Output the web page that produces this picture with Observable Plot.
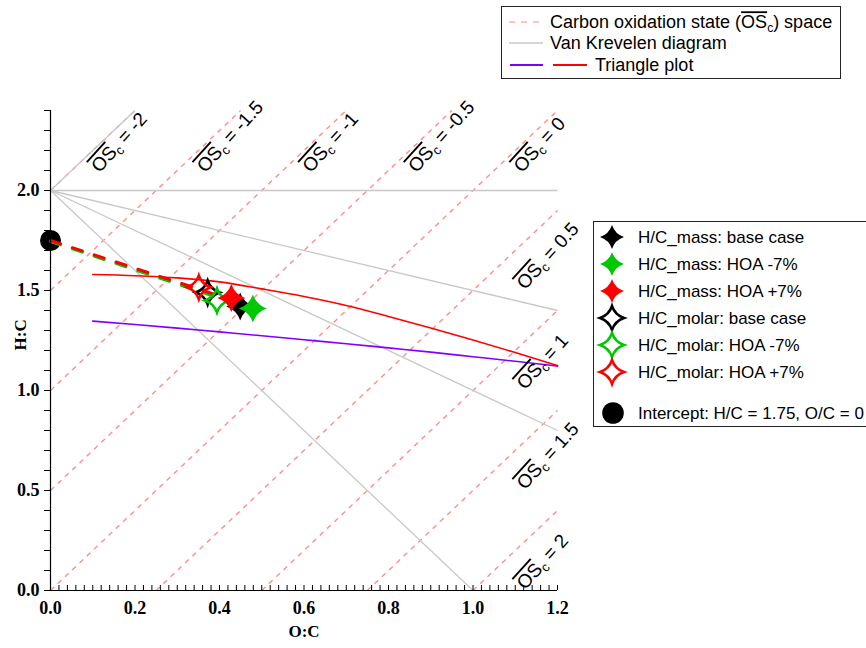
<!DOCTYPE html>
<html><head><meta charset="utf-8">
<script src="https://cdn.jsdelivr.net/npm/d3@7"></script>
<script src="https://cdn.jsdelivr.net/npm/@observablehq/plot@0.6"></script>
<style>body{margin:0;background:#fff}#chart{position:relative;width:866px;height:648px}</style>
</head><body><div id="chart"></div>
<script>
// ---- data ----
const osValues  = [-2, -1.5, -1, -0.5, 0, 0.5, 1, 1.5, 2];
const osStartOC = [0, 0, 0, 0, 0, 0.25, 0.5, 0.75, 1.0];
const osStartHC = [2, 1.5, 1, 0.5, 0, 0, 0, 0, 0];
const osEndOC   = [0.2, 0.45, 0.7, 0.95, 1.2, 1.2, 1.2, 1.2, 1.2];
const osEndHC   = [2.4, 2.4, 2.4, 2.4, 2.4, 1.9, 1.4, 0.9, 0.4];

const vkStartOC = [0, 0, 0, 0, 0];
const vkStartHC = [2, 2, 2, 2, 2];
const vkEndOC   = [0.2, 1.2, 1.2, 1.2, 1.0];
const vkEndHC   = [2.4, 2.0, 1.4, 0.8, 0.0];

const triOC       = [0.10, 0.20, 0.30, 0.40, 0.50, 0.60, 0.70, 0.80, 0.90, 1.00, 1.10, 1.20];
const triRedHC    = [1.580, 1.574, 1.563, 1.543, 1.508, 1.470, 1.425, 1.370, 1.312, 1.252, 1.190, 1.125];
const triPurpleHC = [1.347, 1.330, 1.312, 1.293, 1.274, 1.254, 1.234, 1.213, 1.192, 1.169, 1.146, 1.122];

const fitGreenOC = [0, 0.48], fitGreenHC = [1.75, 1.410];
const fitRedOC   = [0, 0.43], fitRedHC   = [1.75, 1.452];

const caseNames = ["base case", "HOA -7%", "HOA +7%"];
const massOC  = [0.449, 0.479, 0.428];
const massHC  = [1.420, 1.410, 1.462];
const molarOC = [0.372, 0.394, 0.351];
const molarHC = [1.490, 1.450, 1.516];

const interceptOC = [0], interceptHC = [1.75];

const xTicks = [0, 0.2, 0.4, 0.6, 0.8, 1.0, 1.2];
const yTicks = [0, 0.5, 1.0, 1.5, 2.0];

// ---- styles ----
const caseColors = ["#000000", "#00c800", "#ff0000"];
const osColor = "#ff8f8f", vkColor = "#c8c8c8", redColor = "#ff0000", purpleColor = "#8000ff";

const star4 = {
  draw(ctx, size) {
    const R = Math.sqrt(size / Math.PI), c = R * 0.25;
    ctx.moveTo(0, -R);
    ctx.quadraticCurveTo(c, -c, R, 0);
    ctx.quadraticCurveTo(c, c, 0, R);
    ctx.quadraticCurveTo(-c, c, -R, 0);
    ctx.quadraticCurveTo(-c, -c, 0, -R);
    ctx.closePath();
  }
};

const idx = a => a.map((_, i) => i);
const sans = "Liberation Sans, Arial, sans-serif";
const serif = "Liberation Serif, Times New Roman, serif";

const osTop = idx(osValues).filter(i => osValues[i] <= 0);
const osRight = idx(osValues).filter(i => osValues[i] > 0);

const marks = [
  Plot.link(idx(osValues), {x1: i => osStartOC[i], y1: i => osStartHC[i], x2: i => osEndOC[i], y2: i => osEndHC[i],
    stroke: osColor, strokeWidth: 1.4, strokeDasharray: "5,5"}),
  Plot.link(idx(vkEndOC), {x1: i => vkStartOC[i], y1: i => vkStartHC[i], x2: i => vkEndOC[i], y2: i => vkEndHC[i],
    stroke: vkColor, strokeWidth: 1.3}),
  Plot.line(idx(triOC), {x: i => triOC[i], y: i => triPurpleHC[i], stroke: purpleColor, strokeWidth: 1.6, curve: "monotone-x"}),
  Plot.line(idx(triOC), {x: i => triOC[i], y: i => triRedHC[i], stroke: redColor, strokeWidth: 1.6, curve: "monotone-x"}),
  Plot.dot(idx(interceptOC), {x: i => interceptOC[i], y: i => interceptHC[i], r: 10.5, fill: "black"}),
  Plot.line(idx(fitGreenOC), {x: i => fitGreenOC[i], y: i => fitGreenHC[i], stroke: "#00c800", strokeWidth: 3, strokeDasharray: "10.5,12.5", dy: 1}),
  Plot.line(idx(fitRedOC), {x: i => fitRedOC[i], y: i => fitRedHC[i], stroke: redColor, strokeWidth: 3, strokeDasharray: "10.5,12.5"}),
];
caseNames.forEach((_, i) => marks.push(Plot.dot([i], {x: j => molarOC[j], y: j => molarHC[j], symbol: star4, r: 12, fill: "none", stroke: caseColors[i], strokeWidth: 2.5})));
caseNames.forEach((_, i) => marks.push(Plot.dot([i], {x: j => massOC[j], y: j => massHC[j], symbol: star4, r: 14, fill: caseColors[i], stroke: "none"})));

marks.push(
  Plot.text(osTop, {x: i => osEndOC[i], y: i => osEndHC[i], text: i => `OSc = ${osValues[i]}`, rotate: -48, textAnchor: "start",
    dx: -40, dy: 59, fontFamily: sans, fontSize: 19, fill: "black", className: "oslab"}),
  Plot.text(osRight, {x: i => osEndOC[i], y: i => osEndHC[i], text: i => `OSc = ${osValues[i]}`, rotate: -48, textAnchor: "start",
    dx: -37, dy: 76, fontFamily: sans, fontSize: 19, fill: "black", className: "oslab"}),
  Plot.axisY(d3.range(0, 25).map(i => i / 10), {tickSize: 6, tickFormat: () => "", label: null}),
  Plot.axisY(yTicks, {tickSize: 0, tickPadding: 11, tickFormat: d => d.toFixed(1), label: null, fontFamily: serif, fontWeight: "bold", fontSize: 18}),
  Plot.axisX(d3.range(0, 61).map(i => i / 50), {tickSize: -5, tickFormat: () => "", label: null}),
  Plot.axisX(xTicks, {tickSize: 0, tickPadding: 11, tickFormat: d => d.toFixed(1), label: null, fontFamily: serif, fontWeight: "bold", fontSize: 18}),
  Plot.ruleX([0], {stroke: "black", strokeWidth: 1.2}),
  Plot.ruleY([0], {stroke: "black", strokeWidth: 1.2}),
  Plot.text(["O:C"], {text: d => d, frameAnchor: "bottom", dy: 46, fontFamily: serif, fontWeight: "bold", fontSize: 17}),
  Plot.text(["H:C"], {text: d => d, frameAnchor: "left", dx: -30, rotate: -90, fontFamily: serif, fontWeight: "bold", fontSize: 17})
);

const plot = Plot.plot({
  width: 866, height: 648,
  marginLeft: 50, marginRight: 309, marginTop: 110, marginBottom: 58,
  x: {domain: [0, 1.2]},
  y: {domain: [0, 2.4]},
  style: {background: "white", overflow: "visible", fontFamily: serif},
  marks
});
document.getElementById("chart").appendChild(plot);

const svg = d3.select(plot);

// OSc rich text: overline + subscript
function richOS(textSel, rest, subSize) {
  textSel.text("");
  textSel.append("tspan").style("text-decoration", "overline").text("OS");
  textSel.append("tspan").attr("font-size", subSize).attr("dy", 4).text("c");
  textSel.append("tspan").attr("dy", -4).text(rest);
}
svg.selectAll(".oslab text").each(function() {
  const t = d3.select(this);
  const s = t.text();
  richOS(t, s.replace(/^OSc/, ""), 13);
});

// Legend 1
const L1 = svg.append("g").attr("font-family", sans).attr("font-size", 18).attr("text-anchor", "start").attr("fill", "black");
L1.append("rect").attr("x", 501.5).attr("y", 6.5).attr("width", 339).attr("height", 72).attr("fill", "white").attr("stroke", "#222");
L1.append("line").attr("x1", 509).attr("x2", 543).attr("y1", 22).attr("y2", 22).attr("stroke", "#ffb0b0").attr("stroke-width", 1.4).attr("stroke-dasharray", "6,6");
L1.append("line").attr("x1", 509).attr("x2", 543).attr("y1", 43).attr("y2", 43).attr("stroke", vkColor).attr("stroke-width", 1.3);
L1.append("line").attr("x1", 510).attr("x2", 543).attr("y1", 65).attr("y2", 65).attr("stroke", purpleColor).attr("stroke-width", 1.8);
L1.append("line").attr("x1", 553).attr("x2", 587).attr("y1", 65).attr("y2", 65).attr("stroke", redColor).attr("stroke-width", 1.8);
const t1 = L1.append("text").attr("x", 550).attr("y", 22).attr("dy", "0.35em");
t1.append("tspan").text("Carbon oxidation state (");
t1.append("tspan").style("text-decoration", "overline").text("OS");
t1.append("tspan").attr("font-size", 12).attr("dy", 4).text("c");
t1.append("tspan").attr("dy", -4).text(") space");
L1.append("text").attr("x", 550).attr("y", 43).attr("dy", "0.35em").text("Van Krevelen diagram");
L1.append("text").attr("x", 595).attr("y", 65).attr("dy", "0.35em").text("Triangle plot");

// Legend 2
const L2 = svg.append("g").attr("font-family", sans).attr("font-size", 17).attr("text-anchor", "start").attr("fill", "black");
L2.append("rect").attr("x", 593.5).attr("y", 221.5).attr("width", 290).attr("height", 205).attr("fill", "white").attr("stroke", "#222");
const rows = [];
caseNames.forEach((n, i) => rows.push({label: `H/C_mass: ${n}`, color: caseColors[i], filled: true}));
caseNames.forEach((n, i) => rows.push({label: `H/C_molar: ${n}`, color: caseColors[i], filled: false}));
const rowY = [237, 264, 291, 318, 345, 372];
const starPath = d3.symbol(star4, Math.PI * 12 * 12)();
rows.forEach((r, k) => {
  L2.append("path").attr("d", starPath).attr("transform", `translate(612,${rowY[k]})`)
    .attr("fill", r.filled ? r.color : "none").attr("stroke", r.filled ? "none" : r.color).attr("stroke-width", 2.5);
  L2.append("text").attr("x", 638).attr("y", rowY[k]).attr("dy", "0.35em").text(r.label);
});
L2.append("circle").attr("cx", 613).attr("cy", 413).attr("r", 10.8).attr("fill", "black");
L2.append("text").attr("x", 638).attr("y", 413).attr("dy", "0.35em").text(`Intercept: H/C = ${interceptHC[0]}, O/C = ${interceptOC[0]}`);
</script>
</body></html>
